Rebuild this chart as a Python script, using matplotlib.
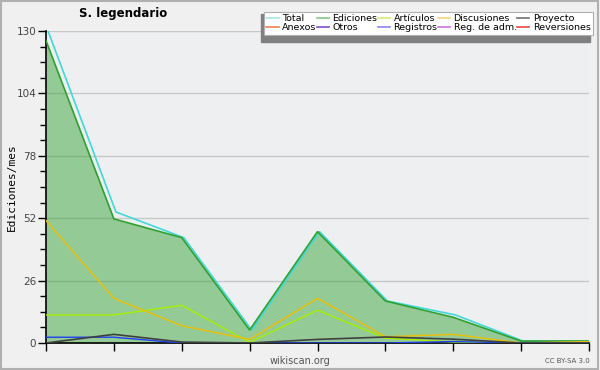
import matplotlib
matplotlib.use("Agg")
import matplotlib.pyplot as plt
from matplotlib.lines import Line2D
from matplotlib.patches import Rectangle

# Datos (ediciones por mes)
meses = list(range(9))
total = [130, 54.6, 43.9, 5.4, 46.4, 17.5, 11.7, 0.8, 0.8]
ediciones = [126, 51.7, 43.9, 5.4, 46.4, 17.5, 10.7, 0.8, 0.8]
articulos = [11.7, 11.7, 15.7, 0.3, 13.7, 2.0, 0.4, 0, 0]
discusiones = [51, 18.6, 7.2, 1.5, 18.6, 2.6, 3.6, 0, 0.6]
proyecto = [0, 3.6, 0.4, 0, 1.5, 2.5, 1.6, 0, 0]
registros = [2.4, 2.4, 0, 0, 0, 0, 0.6, 0, 0]

series_legend = ["Total", "Ediciones", "Artículos", "Discusiones", "Proyecto",
                 "Anexos", "Otros", "Registros", "Reg. de adm.", "Reversiones"]
colores_legend = ["#a8e6e6", "#80c888", "#d0ec70", "#f4d870", "#707070",
                  "#f08050", "#8050d0", "#8888f0", "#d070e0", "#e84848"]
yticks = [0, 26, 52, 78, 104, 130]

fig = plt.figure(figsize=(6, 3.7), dpi=100, facecolor="#f0f0f0")
ax = fig.add_axes([46 / 600, 27 / 370, 543 / 600, 312 / 370])
ax.set_facecolor("#eeeff1")

# borde de la figura
fig.patches.append(Rectangle((0.002, 0.003), 0.995, 0.994, transform=fig.transFigure,
                             fill=False, edgecolor="#b0b0b0", lw=1.5))

ax.fill_between(meses, 0, ediciones, color="#3aa63a", alpha=0.5, lw=0, zorder=2)
ax.plot([m + 0.03 for m in meses], total, color="#40d8d8", lw=1.2, zorder=4)
ax.plot(meses, ediciones, color="#30a030", lw=1.2, zorder=5)
ax.plot(meses, articulos, color="#a8f000", lw=1.0, zorder=5)
ax.plot(meses, discusiones, color="#f0c000", lw=1.0, zorder=6)
ax.plot(meses, registros, color="#2040f0", lw=1.0, zorder=6)
ax.plot(meses, proyecto, color="#404040", lw=1.2, zorder=7)

ax.set_xlim(0, 8)
ax.set_ylim(0, 130)
ax.set_yticks(yticks)
ax.set_yticks([v for v in [i * 6.5 for i in range(21)] if v not in yticks], minor=True)
ax.set_xticks(meses)
ax.set_xticklabels([])
ax.grid(axis="y", color="#c8c8c8", lw=1, zorder=1)
ax.set_axisbelow(True)
for s in ["top", "right"]:
    ax.spines[s].set_visible(False)
ax.spines["left"].set_linewidth(1.2)
ax.spines["bottom"].set_linewidth(1.2)
ax.tick_params(axis="y", which="major", length=6, width=1, labelsize=7.5, labelcolor="#444444", pad=1)
ax.tick_params(axis="y", which="minor", length=4, width=1)
ax.tick_params(axis="x", length=6, width=1, direction="out")

fig.text(12 / 600, 1 - 187 / 370, "Ediciones/mes", rotation=90, ha="center", va="center",
         family="DejaVu Sans Mono", fontsize=8)
fig.text(123 / 600, 1 - 14 / 370, "S. legendario", ha="center", va="center",
         fontsize=8.5, fontweight="bold")
fig.text(300 / 600, 1 - 361 / 370, "wikiscan.org", ha="center", va="center",
         fontsize=7, color="#555555")
fig.text(590 / 600, 1 - 361 / 370, "CC BY-SA 3.0", ha="right", va="center",
         fontsize=5, color="#555555")

# leyenda (orden por filas)
handles = [Line2D([], [], color=c, lw=1.2) for c in colores_legend]
orden = [0, 5, 1, 6, 2, 7, 3, 8, 4, 9]
fig.patches.append(Rectangle((261 / 600, 1 - 42 / 370), 329 / 600, 28 / 370,
                             transform=fig.transFigure, color="#808080", zorder=0))
leg = fig.legend([handles[i] for i in orden], [series_legend[i] for i in orden],
                 ncol=5, loc="upper left", mode="expand",
                 bbox_to_anchor=(264 / 600, 1 - 12 / 370, 329 / 600, 0.001),
                 fontsize=6.8, frameon=True, fancybox=False, handlelength=1.3,
                 handletextpad=0.35, columnspacing=0.3, labelspacing=0.05,
                 borderpad=0.25, borderaxespad=0)
leg.get_frame().set_edgecolor("#b0b0b0")
leg.get_frame().set_linewidth(0.8)
leg.get_frame().set_facecolor("white")
leg.get_frame().set_alpha(1)

fig.savefig("out.png", dpi=100, facecolor=fig.get_facecolor())
